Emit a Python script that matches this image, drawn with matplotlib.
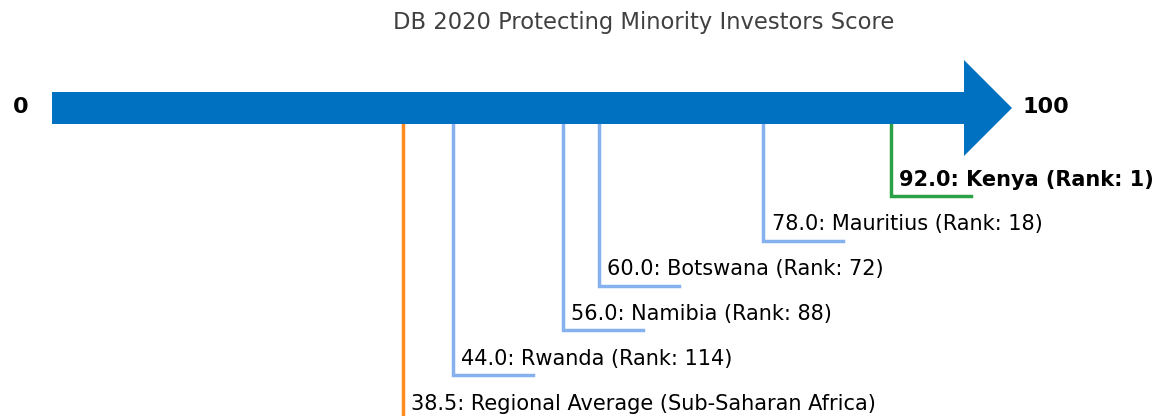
import matplotlib
matplotlib.use("Agg")
import matplotlib.pyplot as plt
from matplotlib.patches import Polygon

title = "DB 2020 Protecting Minority Investors Score"
names = ["Kenya", "Mauritius", "Botswana", "Namibia", "Rwanda", "Regional Average (Sub-Saharan Africa)"]
scores = [92.0, 78.0, 60.0, 56.0, 44.0, 38.5]
ranks = [1, 18, 72, 88, 114, None]
scale_min, scale_max = 0, 100

W, H = 1155, 416
fig = plt.figure(figsize=(W / 100, H / 100), dpi=100)
ax = fig.add_axes([0, 0, 1, 1])
ax.set_axis_off()
ppu = 9.12          # pixels per unit
x0px = 52
ax.set_xlim(-x0px / ppu, (W - x0px) / ppu)
ax.set_ylim(H, 0)

# arrow
body_top, body_bot, head_top, head_bot = 92, 124, 60, 156
head_len = (1012 - x0px) / ppu - scale_max
arrow = Polygon([
    (scale_min, body_top), (scale_max, body_top), (scale_max, head_top),
    (scale_max + head_len, (body_top + body_bot) / 2),
    (scale_max, head_bot), (scale_max, body_bot), (scale_min, body_bot)],
    closed=True, facecolor="#0070C0", edgecolor="none", zorder=3)
ax.add_patch(arrow)

ax.text(-3.4, 107, str(scale_min), ha="center", va="center", fontsize=16,
        fontweight="bold", color="black")
ax.text(scale_max + head_len + 1.1, 107, str(scale_max), ha="left", va="center",
        fontsize=16, fontweight="bold", color="black")

ax.text((644 - x0px) / ppu, 22, title, ha="center", va="center",
        fontsize=16.3, color="#404040")

level0 = 196
step = 44.8
seg = 80 / ppu
for i, (n, s, r) in enumerate(zip(names, scores, ranks)):
    y = level0 + step * i
    if r == 1:
        col = "#2CA044"
    elif r is None:
        col = "#FF8A1E"
    else:
        col = "#85B2EE"
    ax.plot([s, s, s + seg], [body_bot, y, y], color=col, lw=2.5,
            solid_joinstyle="miter", zorder=2)
    lab = f"{s:.1f}: {n}" + (f" (Rank: {r})" if r is not None else "")
    ax.text(s + 0.9, y - 10.5, lab, ha="left", va="baseline", fontsize=15,
            fontweight="bold" if r == 1 else "normal", color="black")

fig.savefig("out.png", dpi=100)
